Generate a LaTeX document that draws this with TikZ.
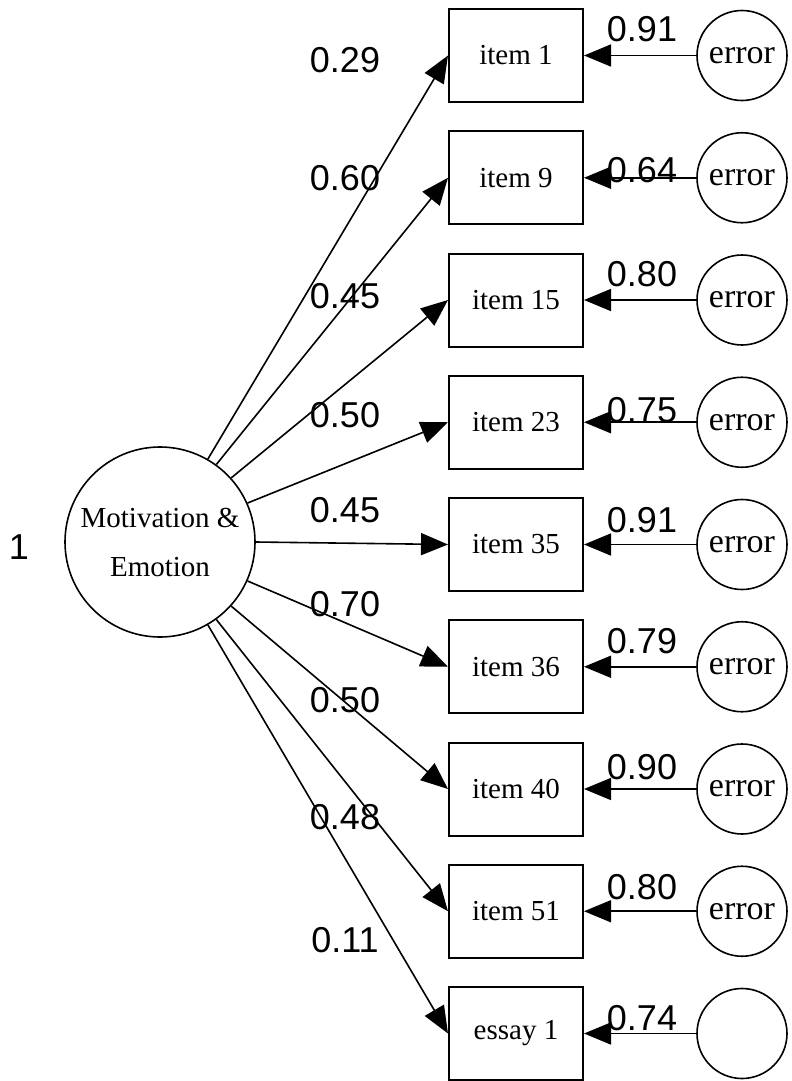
\documentclass[tikz,border=0pt]{standalone}
\usepackage{fontspec}
\setmainfont{Liberation Serif}
\newfontfamily\numfont{Liberation Sans}
\usetikzlibrary{positioning,arrows.meta}

\tikzset{
  obs/.style={draw, line width=1pt, minimum width=67pt, minimum height=46.5pt, inner sep=0pt, font=\fontsize{14.5}{17}\selectfont},
  err/.style={draw, circle, line width=0.8pt, minimum size=45pt, inner sep=0pt, font=\fontsize{17}{20}\selectfont},
  load/.style={-{Triangle[length=13.5pt,width=11pt]}, line width=0.8pt},
  coef/.style={font=\numfont\fontsize{18}{21}\selectfont, inner sep=0pt},
}

\begin{document}
\begin{tikzpicture}[x=0.5pt, y=-0.5pt]
    \useasboundingbox (0,0) rectangle (792,1081);

    % Latent factor
    \node[draw, circle, line width=0.8pt, minimum size=95pt, inner sep=0pt, align=center,
          font=\fontsize{14.5}{24.5}\selectfont] (factor) at (160,542) {Motivation \&\\Emotion};
    \node[coef] (one) at (19,547) {1};

    % Indicators, error terms and loadings
    \foreach \name/\txt/\load/\ly/\err/\ey/\ang/\etxt [count=\i from 0] in {
        it1/item 1/0.29/60/0.91/-26/60/error,
        it9/item 9/0.60/178/0.64/-8/54/error,
        it15/item 15/0.45/296/0.80/-26/42/error,
        it23/item 23/0.50/415/0.75/-12/24/error,
        it35/item 35/0.45/510/0.91/-24/0/error,
        it36/item 36/0.70/604/0.79/-26/-24/error,
        it40/item 40/0.50/700/0.90/-22/-42/error,
        it51/item 51/0.48/817/0.80/-24/-54/error,
        es1/essay 1/0.11/940/0.74/-15/-60/{}} {
        \node[obs] (\name) at (516,{55.5+122.25*\i}) {\txt};
        \node[err] (err\i) at (742,{55.5+122.25*\i}) {\etxt};
        \draw[load] (factor.\ang) -- (\name.west);
        \draw[load] (err\i) -- (\name);
        \node[coef] (lab\i) at (345,\ly) {\load};
        \node[coef] (elab\i) at (642,{55.5+122.25*\i+\ey}) {\err};
    }
\end{tikzpicture}
\end{document}
